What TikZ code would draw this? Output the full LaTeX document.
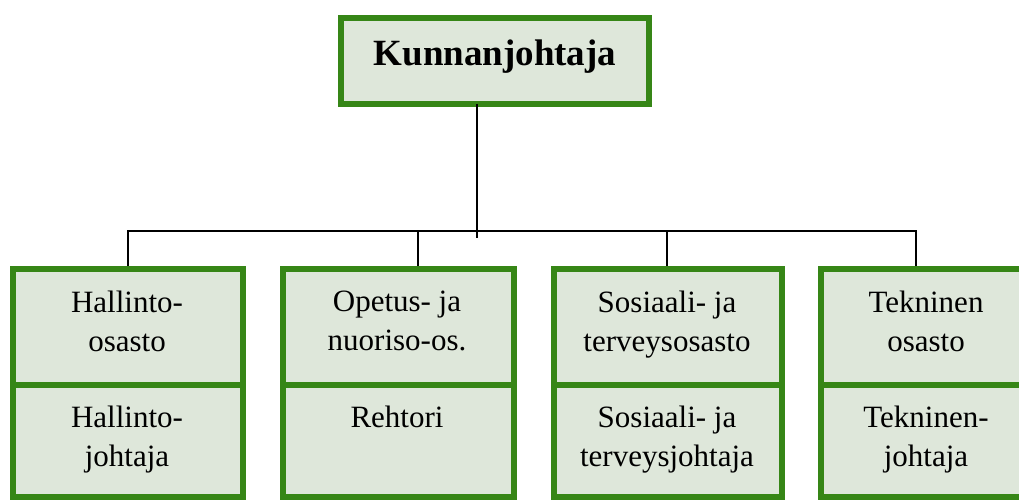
\documentclass[tikz,border=0pt]{standalone}
\usepackage{fontspec}
\setmainfont{Liberation Serif}
\definecolor{boxgreen}{RGB}{54,134,22}
\definecolor{boxfill}{RGB}{222,231,218}
\begin{document}
\begin{tikzpicture}[x=1pt,y=-1pt,
  sect/.style={draw=boxgreen, fill=boxfill, line width=6pt, inner sep=0pt, outer sep=0pt, minimum width=#1},
  topsect/.style={sect=#1, minimum height=116pt},
  lowsect/.style={sect=#1, minimum height=112pt},
  lbl/.style={font=\fontsize{31}{39}\selectfont, align=center, inner sep=0pt, anchor=north},
  conn/.style={draw=black, line width=2pt}]
\useasboundingbox (0,0) rectangle (1019,500);
\clip (0,0) rectangle (1019,500);
% connector coordinates
\coordinate (tap) at (476.5,238);
\coordinate (x1) at (128,231);
\coordinate (x2) at (418,231);
\coordinate (x3) at (667,231);
\coordinate (x4) at (916,231);
% boxes
\node[sect=308pt, minimum height=86pt] (k) at (495,61) {};
\node[topsect=230pt] (a1) at (128,327) {};
\node[lowsect=230pt] (a2) at (128,441) {};
\node[topsect=231pt] (b1) at (398.5,327) {};
\node[lowsect=231pt] (b2) at (398.5,441) {};
\node[topsect=228pt] (c1) at (668,327) {};
\node[lowsect=228pt] (c2) at (668,441) {};
\node[topsect=230pt] (d1) at (936,327) {};
\node[lowsect=230pt] (d2) at (936,441) {};
% connectors
\draw[conn] (k.south -| tap) -- (tap);
\draw[conn] (x1 |- a1.north) -- (x1) -- (x4) -- (x4 |- d1.north);
\draw[conn] (x2) -- (x2 |- b1.north);
\draw[conn] (x3) -- (x3 |- c1.north);
% redraw box borders over connector ends
\foreach \n in {a1,b1,c1,d1}{
  \draw[boxgreen, line width=6pt] (\n.north west) -- (\n.north east);
}
% texts
\node[font=\fontsize{37}{44}\selectfont\bfseries, inner sep=0pt, anchor=base] (kt) at (495,66) {Kunnanjohtaja};
\node[lbl] (a1t) at (127,291) {Hallinto-\\osasto};
\node[lbl] (a2t) at (127,406) {Hallinto-\\johtaja};
\node[lbl] (b1t) at (397,291) {Opetus- ja\\nuoriso-os.};
\node[lbl] (b2t) at (397,406) {Rehtori};
\node[lbl] (c1t) at (667,291) {Sosiaali- ja\\terveysosasto};
\node[lbl] (c2t) at (667,406) {Sosiaali- ja\\terveysjohtaja};
\node[lbl] (d1t) at (926,291) {Tekninen\\osasto};
\node[lbl] (d2t) at (926,406) {Tekninen-\\johtaja};
\end{tikzpicture}
\end{document}
